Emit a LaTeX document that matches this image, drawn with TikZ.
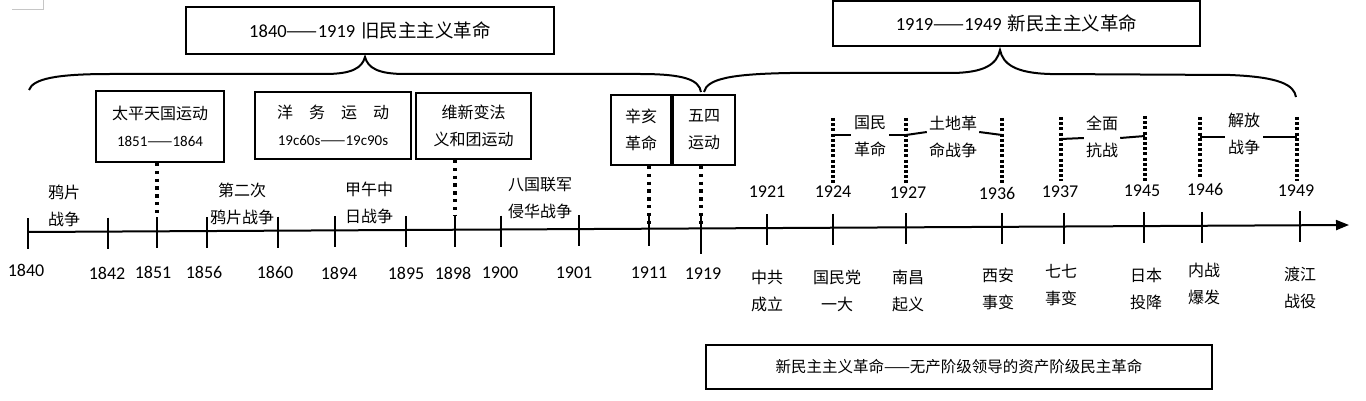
\documentclass[tikz,border=0pt]{standalone}
\usepackage{fontspec}
\setmainfont{Carlito}
\newfontfamily\cjk{Noto Sans CJK SC}
\usetikzlibrary{arrows.meta,calc}
\tikzset{
  axisline/.style={line width=2pt},
  tickline/.style={line width=2pt},
  dotline/.style={line width=3.4pt, dash pattern=on 3.4pt off 4.4pt},
  dotfine/.style={line width=3.2pt, dash pattern=on 3pt off 2.2pt},
  seg/.style={line width=2pt},
  brace/.style={line width=2pt},
  boxed/.style={draw, line width=2pt, inner sep=0pt, align=center, font=\cjk\fontsize{16}{27}\selectfont},
  lbl/.style={font=\cjk\fontsize{16}{27}\selectfont, align=center, inner sep=2pt},
  yr/.style={font=\fontsize{18}{18}\selectfont, inner sep=0pt},
}
\newcommand{\nums}[1]{{\rmfamily\fontsize{15}{27}\selectfont #1}}
\begin{document}
\begin{tikzpicture}[x=1pt,y=-1pt]
\useasboundingbox (0,0) rectangle (1366,401);
% corner mark
\draw[gray!45, line width=0.8pt] (12,9) -- (43,9) -- (43,0);

% axis
\coordinate (axL) at (28,232);
\coordinate (axR) at (1349,225);
\draw[axisline,-{Triangle[length=13pt,width=10pt]}] (axL) -- (axR);

% tick coordinates on axis
\foreach \n/\x/\y in {1840/28/232, 1842/108/231.6, 1851/157/231.3, 1856/207/231.0, 1860/278/230.7,
  1894/335/230.4, 1895/406/230.0, 1898/455/229.7, 1900/501/229.5, 1901/579/229.1, 1911/649/228.7,
  1919/701/228.4, 1921/767/228.1, 1924/833/227.7, 1927/906/227.3, 1936/1002/226.8, 1937/1064/226.5,
  1945/1144/226.1, 1946/1202/225.8, 1949/1300/225.2}{
  \coordinate (t\n) at (\x,\y);
  \coordinate (t\n top) at (\x,\y-14);
}
\foreach \n in {1840,1842,1851,1856,1860,1894,1895,1898,1900,1901,1911,1921,1924,1927,1936,1937,1945,1946,1949}{
  \draw[tickline] (t\n top) -- ++(0,31);
}
\draw[tickline] (t1919top) -- ++(0,40);

% years below axis
\node[yr] (y1840) at (26,270) {1840};
\node[yr] (y1842) at (107,273) {1842};
\node[yr] (y1851) at (153,272) {1851};
\node[yr] (y1856) at (204,272) {1856};
\node[yr] (y1860) at (275,272) {1860};
\node[yr] (y1894) at (339,273) {1894};
\node[yr] (y1895) at (406,273) {1895};
\node[yr] (y1898) at (453,273) {1898};
\node[yr] (y1900) at (500,273) {1900};
\node[yr] (y1901) at (574,273) {1901};
\node[yr] (y1911) at (649,273) {1911};
\node[yr] (y1919) at (703,274) {1919};
% years above axis
\node[yr] (y1921) at (767,192) {1921};
\node[yr] (y1924) at (833,192) {1924};
\node[yr] (y1927) at (908,193) {1927};
\node[yr] (y1936) at (997,193) {1936};
\node[yr] (y1937) at (1060,192) {1937};
\node[yr] (y1945) at (1142,191) {1945};
\node[yr] (y1946) at (1205,189) {1946};
\node[yr] (y1949) at (1296,191) {1949};

% event labels above axis (early)
\node[lbl] (yp) at (64,205.5) {鸦片\\战争};
\node[lbl] (derc) at (242,203.5) {第二次\\鸦片战争};
\node[lbl] (jw) at (369,203) {甲午中\\日战争};
\node[lbl] (bg) at (540,198) {八国联军\\侵华战争};

% event labels below axis (late)
\node[lbl] (zg) at (767,291) {中共\\成立};
\node[lbl] (gmd) at (837,291) {国民党\\一大};
\node[lbl] (nc) at (908,291) {南昌\\起义};
\node[lbl] (xa) at (998,289) {西安\\事变};
\node[lbl] (qq) at (1061,285) {七七\\事变};
\node[lbl] (rb) at (1146,288.5) {日本\\投降};
\node[lbl] (nz) at (1204,283.5) {内战\\爆发};
\node[lbl] (dj) at (1300,287.5) {渡江\\战役};

% boxes above axis
\node[boxed, minimum width=128pt, minimum height=71pt] (tp) at (160,126.5) {太平天国运动\\\nums{1851{\cjk ——}1864}};
\node[boxed, minimum width=156pt, minimum height=67pt] (yw) at (333,125.5) {洋　务　运　动\\\nums{19c60s{\cjk ——}19c90s}};
\node[boxed, minimum width=115pt, minimum height=66pt] (wx) at (473.5,126) {维新变法\\义和团运动};
\node[boxed, minimum width=60pt, minimum height=70pt] (xh) at (641,130) {辛亥\\革命};
\node[boxed, minimum width=62pt, minimum height=70pt] (ws) at (704,130) {五四\\运动};

% dotted connectors from boxes to axis
\draw[dotline] (tp.south -| t1851) -- (t1851top);
\draw[dotline] (wx.south -| t1898) -- (t1898top);
\draw[dotline] (xh.south -| t1911) -- (t1911);
\draw[dotline] (ws.south -| t1919) -- (t1919);

% period brackets (late)
\coordinate (p1924a) at (833,118); \coordinate (p1924b) at (833,184);
\coordinate (p1927a) at (906,118); \coordinate (p1927b) at (906,184);
\coordinate (p1936a) at (1002,118); \coordinate (p1936b) at (1002,184);
\coordinate (p1937a) at (1061,117); \coordinate (p1937b) at (1061,181);
\coordinate (p1945a) at (1145,116); \coordinate (p1945b) at (1145,181);
\coordinate (p1946a) at (1200,117); \coordinate (p1946b) at (1200,179);
\coordinate (p1949a) at (1297,117); \coordinate (p1949b) at (1297,181);
\foreach \n in {1924,1927,1936,1937,1945,1946,1949}{
  \draw[dotfine] (p\n a) -- (p\n b);
}
\node[lbl, inner sep=3pt] (gm) at (870,136) {国民\\革命};
\node[lbl, inner sep=2pt] (td) at (953,136.5) {土地革\\命战争};
\node[lbl, inner sep=2pt] (qm) at (1102,137) {全面\\抗战};
\node[lbl, inner sep=3pt] (jf) at (1244,133.5) {解放\\战争};

\draw[seg] (833,135) -- (gm.west |- 0,135);
\draw[seg] (gm.east |- 0,135) -- (906,135);
\draw[seg] (906,135) -- (td.west |- 0,132);
\draw[seg] (td.east |- 0,132) -- (1002,135);
\draw[seg] (1061,139) -- (qm.west |- 0,138);
\draw[seg] (qm.east |- 0,138) -- (1145,136);
\draw[seg] (1200,137) -- (jf.west |- 0,137);
\draw[seg] (jf.east |- 0,137) -- (1297,137);

% braces
\draw[brace] (29,90) .. controls (33,79) and (55,74) .. (110,74) -- (325,74)
  .. controls (352,74) and (362,68) .. (365,57)
  .. controls (368,68) and (378,74) .. (405,74) -- (640,74)
  .. controls (685,74) and (699,80) .. (701,92);
\draw[brace] (704,92) .. controls (707,79) and (730,74) .. (790,73) -- (950,73)
  .. controls (985,73) and (997,64) .. (1000,50)
  .. controls (1003,64) and (1015,73) .. (1050,74) -- (1230,75)
  .. controls (1280,77) and (1294,85) .. (1296,97);

% title boxes
\node[boxed, minimum width=368pt, minimum height=47pt] (old) at (370,30.5)
  {\rmfamily\fontsize{18.5}{20}\selectfont 1840{\cjk ——}1919\hspace{6pt}{\cjk 旧民主主义革命}};
\node[boxed, minimum width=367pt, minimum height=45pt] (new) at (1016.5,23.5)
  {\rmfamily\fontsize{18.5}{20}\selectfont 1919{\cjk ——}1949\hspace{6pt}{\cjk 新民主主义革命}};

% bottom box
\node[boxed, minimum width=506pt, minimum height=44pt, font=\cjk\fontsize{15.5}{18}\selectfont] (nd) at (959,367)
  {新民主主义革命——无产阶级领导的资产阶级民主革命};
\end{tikzpicture}
\end{document}
